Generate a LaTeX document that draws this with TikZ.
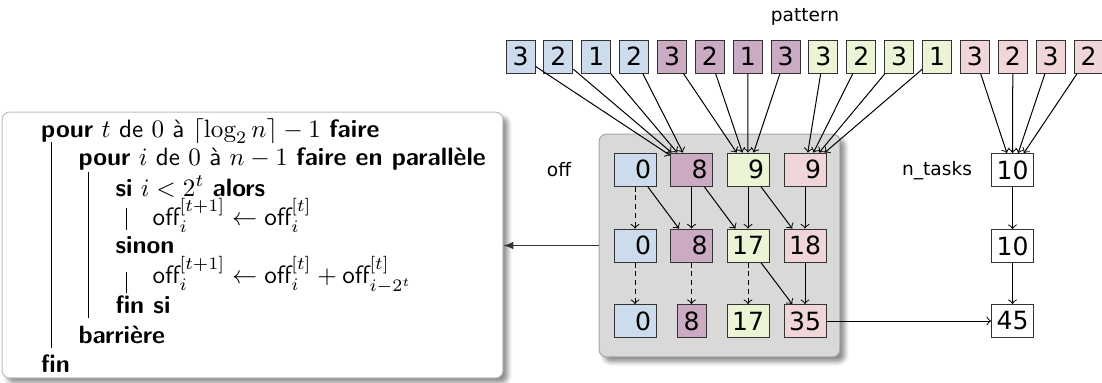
\documentclass[tikz,border=0pt]{standalone}
\usepackage{amsmath}
\usepackage{fontspec}
\usetikzlibrary{shadows.blur}
\newfontfamily\diagfont{DejaVu Sans}
\definecolor{cellblue}{RGB}{204,220,236}
\definecolor{cellmauve}{RGB}{203,170,195}
\definecolor{cellgreen}{RGB}{236,244,214}
\definecolor{cellpink}{RGB}{240,214,217}
\definecolor{panelgray}{RGB}{217,217,217}
\newcommand{\offv}{\textsf{off}}
\tikzset{
  cell/.style={draw=black!80, minimum width=0.406cm, minimum height=0.462cm,
    inner sep=0pt, font=\diagfont},
  wcell/.style={cell, minimum width=0.588cm},
  lbl/.style={font=\diagfont\fontsize{7.4}{9}\selectfont},
  dashedarrow/.style={->, dash pattern=on 2pt off 1.5pt},
  algline/.style={anchor=base west, inner sep=0pt, font=\sffamily},
  softshadow/.style={blur shadow={shadow xshift=0.7mm, shadow yshift=-0.7mm,
    shadow blur steps=6, shadow opacity=45}}
}
\begin{document}
\begin{tikzpicture}[x=0.014cm, y=-0.014cm]
\useasboundingbox (0,0) rectangle (1102,382);

% algorithm
\node[draw=black!25, fill=white, rounded corners=3pt, softshadow,
  minimum width=7.014cm, minimum height=3.724cm] (algo) at (252.5,245) {};
\node[algline] (l1) at (40.7,137)
{\textbf{pour} $t$ de $0$ à $\lceil \log_2 n \rceil - 1$ \textbf{faire}};
\node[algline] (l2) at (78,165)
{\textbf{pour} $i$ de $0$ à $n-1$ \textbf{faire en parallèle}};
\node[algline] (l3) at (115,196)
{\textbf{si} $i < 2^t$ \textbf{alors}};
\node[algline] (l4) at (152,225)
{$\offv_i^{[t+1]} \leftarrow \offv_i^{[t]}$};
\node[algline] (l5) at (115,253)
{\textbf{sinon}};
\node[algline] (l6) at (152,283)
{$\offv_i^{[t+1]} \leftarrow \offv_i^{[t]} + \offv_{i-2^t}^{[t]}$};
\node[algline] (l7) at (115,313)
{\textbf{fin si}};
\node[algline] (l8) at (78,343)
{\textbf{barrière}};
\node[algline] (l9) at (40.7,372)
{\textbf{fin}};
\draw (51.7,141.7) -- (51.7,348);
\draw (88,171.7) -- (88,318);
\draw (126,208) -- (126,230);
\draw (126,272) -- (126,293);

% panel of offsets
\node[draw=black!35, fill=panelgray, rounded corners=3pt, softshadow,
  minimum width=3.374cm, minimum height=3.122cm] (panel) at (719.5,245.5) {};
\node[lbl] (offlbl) at (559,170) {off};
\node[wcell, fill=cellblue] (offA0) at (635,169.5) {\hphantom{0}0};
\node[wcell, fill=cellmauve] (offA1) at (691.5,169.5) {\hphantom{0}8};
\node[wcell, fill=cellgreen] (offA2) at (748,169.5) {\hphantom{0}9};
\node[wcell, fill=cellpink] (offA3) at (805,169.5) {\hphantom{0}9};
\node[wcell, fill=cellblue] (offB0) at (635,245.5) {\hphantom{0}0};
\node[wcell, fill=cellmauve] (offB1) at (691.5,245.5) {\hphantom{0}8};
\node[wcell, fill=cellgreen] (offB2) at (748,245.5) {17};
\node[wcell, fill=cellpink] (offB3) at (805,245.5) {18};
\node[wcell, fill=cellblue] (offC0) at (635,321) {\hphantom{0}0};
\node[cell, fill=cellmauve] (offC1) at (691.5,321) {8};
\node[wcell, fill=cellgreen] (offC2) at (748,321) {17};
\node[wcell, fill=cellpink] (offC3) at (805,321) {35};

\draw[dashedarrow] (offA0) -- (offB0);
\draw[->] (offA0) -- (offB1);
\draw[->] (offA1) -- (offB1);
\draw[->] (offA1) -- (offB2);
\draw[->] (offA2) -- (offB2);
\draw[->] (offA2) -- (offB3);
\draw[->] (offA3) -- (offB3);
\draw[dashedarrow] (offB0) -- (offC0);
\draw[dashedarrow] (offB1) -- (offC1);
\draw[dashedarrow] (offB2) -- (offC2);
\draw[->] (offB2) -- (offC3);
\draw[->] (offB3) -- (offC3);

% number of tasks
\node[lbl] (nlbl) at (937,171) {n\_tasks};
\node[wcell, fill=white] (nA) at (1012.5,170) {10};
\node[wcell, fill=white] (nB) at (1012.5,246) {10};
\node[wcell, fill=white] (nC) at (1012.5,321) {45};
\draw[->] (nA) -- (nB);
\draw[->] (nB) -- (nC);
\draw[->] (offC3) -- (nC);

% pattern
\node[lbl] (patlbl) at (805,17) {pattern};
\foreach \v/\c [count=\k from 0] in {3/cellblue,2/cellblue,1/cellblue,2/cellblue,
  3/cellmauve,2/cellmauve,1/cellmauve,3/cellmauve,
  3/cellgreen,2/cellgreen,3/cellgreen,1/cellgreen,
  3/cellpink,2/cellpink,3/cellpink,2/cellpink}
  \node[cell, fill=\c] (p\k) at ({520.5+37.87*\k},56.5) {\v};
\foreach \k in {0,...,3} \draw[->] (p\k) -- (offA1);
\foreach \k in {4,...,7} \draw[->] (p\k) -- (offA2);
\foreach \k in {8,...,11} \draw[->] (p\k) -- (offA3);
\foreach \k in {12,...,15} \draw[->] (p\k) -- (nA);

\draw[-latex, black!80] (panel.west) -- (panel.west -| algo.east);
\end{tikzpicture}
\end{document}
